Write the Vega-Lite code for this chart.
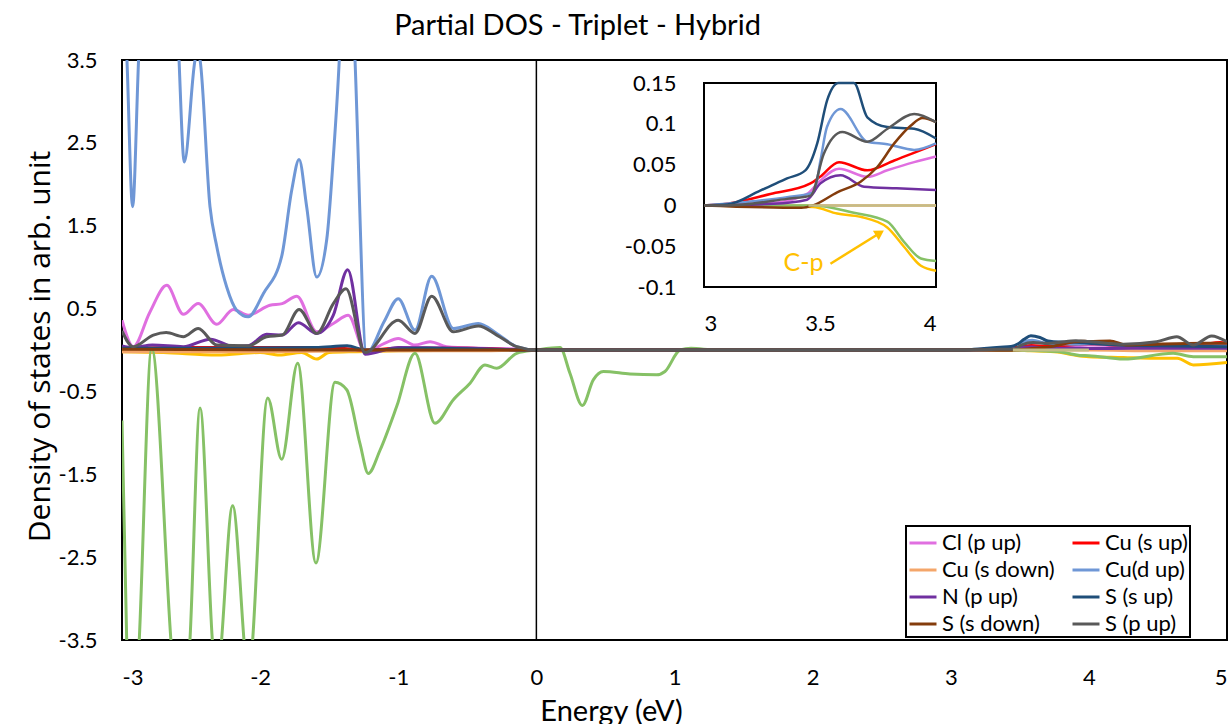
{
  "$schema": "https://vega.github.io/schema/vega-lite/v6.json",
  "width": 1105,
  "height": 580,
  "autosize": {"type": "none"},
  "padding": {"left": 122, "top": 60, "right": 5, "bottom": 84},
  "background": "white",
  "title": {"text": "Partial DOS - Triplet - Hybrid", "font": "Lato", "fontSize": 29, "fontWeight": "normal", "color": "black", "anchor": "middle", "dx": -97, "dy": 41, "offset": 26, "baseline": "alphabetic"},
  "config": {
    "view": {"stroke": "black", "strokeWidth": 2},
    "font": "Lato",
    "locale": {"number": {"decimal": ".", "thousands": ",", "grouping": [3], "currency": ["$", ""], "minus": "-"}},
    "axis": {"grid": false, "ticks": false, "tickSize": 0, "domain": false, "labelFont": "Lato", "labelColor": "black", "labelFontSize": 22, "titleColor": "black", "titleFontWeight": "normal"},
    "legend": {"strokeWidth": 2}
  },
  "datasets": {
    "dos": [
      {"s":"C (p)","e":-3.0,"v":-0.02},{"s":"C (p)","e":-2.7,"v":-0.03},{"s":"C (p)","e":-2.31,"v":-0.06},{"s":"C (p)","e":-2.0,"v":-0.03},{"s":"C (p)","e":-1.86,"v":-0.06},{"s":"C (p)","e":-1.7,"v":-0.03},{"s":"C (p)","e":-1.59,"v":-0.11},{"s":"C (p)","e":-1.5,"v":-0.03},{"s":"C (p)","e":-1.3,"v":-0.02},{"s":"C (p)","e":-1.0,"v":-0.01},{"s":"C (p)","e":0,"v":0},{"s":"C (p)","e":3.0,"v":0},{"s":"C (p)","e":3.47,"v":-0.002},{"s":"C (p)","e":3.574,"v":-0.01},{"s":"C (p)","e":3.675,"v":-0.014},{"s":"C (p)","e":3.79,"v":-0.027},{"s":"C (p)","e":3.863,"v":-0.051},{"s":"C (p)","e":3.935,"v":-0.074},{"s":"C (p)","e":4.0,"v":-0.08},{"s":"C (p)","e":4.25,"v":-0.09},{"s":"C (p)","e":4.467,"v":-0.1},{"s":"C (p)","e":4.64,"v":-0.1},{"s":"C (p)","e":4.756,"v":-0.18},{"s":"C (p)","e":5.0,"v":-0.15},

      {"s":"Cu (s down)","e":-3.0,"v":-0.02},{"s":"Cu (s down)","e":-2.0,"v":-0.02},{"s":"Cu (s down)","e":-1.24,"v":-0.01},{"s":"Cu (s down)","e":-0.5,"v":-0.01},{"s":"Cu (s down)","e":0,"v":0},{"s":"Cu (s down)","e":3.0,"v":0},{"s":"Cu (s down)","e":4.0,"v":0},{"s":"Cu (s down)","e":4.5,"v":-0.01},{"s":"Cu (s down)","e":5.0,"v":-0.01},

      {"s":"Cl (p up)","e":-3.0,"v":0.36},{"s":"Cl (p up)","e":-2.918,"v":0.04},{"s":"Cl (p up)","e":-2.8,"v":0.45},{"s":"Cl (p up)","e":-2.676,"v":0.78},{"s":"Cl (p up)","e":-2.556,"v":0.43},{"s":"Cl (p up)","e":-2.448,"v":0.56},{"s":"Cl (p up)","e":-2.314,"v":0.31},{"s":"Cl (p up)","e":-2.194,"v":0.49},{"s":"Cl (p up)","e":-2.086,"v":0.42},{"s":"Cl (p up)","e":-1.929,"v":0.54},{"s":"Cl (p up)","e":-1.84,"v":0.56},{"s":"Cl (p up)","e":-1.735,"v":0.65},{"s":"Cl (p up)","e":-1.59,"v":0.22},{"s":"Cl (p up)","e":-1.47,"v":0.32},{"s":"Cl (p up)","e":-1.362,"v":0.42},{"s":"Cl (p up)","e":-1.24,"v":-0.02},{"s":"Cl (p up)","e":-1.1,"v":0.08},{"s":"Cl (p up)","e":-1.0,"v":0.14},{"s":"Cl (p up)","e":-0.879,"v":0.06},{"s":"Cl (p up)","e":-0.77,"v":0.1},{"s":"Cl (p up)","e":-0.65,"v":0.04},{"s":"Cl (p up)","e":-0.4,"v":0.02},{"s":"Cl (p up)","e":-0.1,"v":0.01},{"s":"Cl (p up)","e":0,"v":0},{"s":"Cl (p up)","e":3.0,"v":0},{"s":"Cl (p up)","e":3.3,"v":0.003},{"s":"Cl (p up)","e":3.444,"v":0.014},{"s":"Cl (p up)","e":3.5,"v":0.03},{"s":"Cl (p up)","e":3.582,"v":0.045},{"s":"Cl (p up)","e":3.704,"v":0.035},{"s":"Cl (p up)","e":3.79,"v":0.043},{"s":"Cl (p up)","e":3.906,"v":0.053},{"s":"Cl (p up)","e":4.0,"v":0.06},{"s":"Cl (p up)","e":4.3,"v":0.05},{"s":"Cl (p up)","e":4.6,"v":0.05},{"s":"Cl (p up)","e":5.0,"v":0.06},

      {"s":"Cu (s up)","e":-3.0,"v":0.02},{"s":"Cu (s up)","e":-2.5,"v":0.03},{"s":"Cu (s up)","e":-2.0,"v":0.03},{"s":"Cu (s up)","e":-1.5,"v":0.03},{"s":"Cu (s up)","e":-1.24,"v":0.0},{"s":"Cu (s up)","e":-1.0,"v":0.02},{"s":"Cu (s up)","e":-0.5,"v":0.02},{"s":"Cu (s up)","e":0,"v":0},{"s":"Cu (s up)","e":3.0,"v":0},{"s":"Cu (s up)","e":3.1,"v":0.002},{"s":"Cu (s up)","e":3.286,"v":0.014},{"s":"Cu (s up)","e":3.459,"v":0.027},{"s":"Cu (s up)","e":3.5,"v":0.035},{"s":"Cu (s up)","e":3.582,"v":0.053},{"s":"Cu (s up)","e":3.704,"v":0.043},{"s":"Cu (s up)","e":3.82,"v":0.055},{"s":"Cu (s up)","e":4.0,"v":0.075},{"s":"Cu (s up)","e":4.2,"v":0.06},{"s":"Cu (s up)","e":4.5,"v":0.05},{"s":"Cu (s up)","e":4.8,"v":0.06},{"s":"Cu (s up)","e":4.95,"v":0.09},{"s":"Cu (s up)","e":5.0,"v":0.08},

      {"s":"Cu(d up)","e":-3.0,"v":5.0},{"s":"Cu(d up)","e":-2.964,"v":3.5},{"s":"Cu(d up)","e":-2.923,"v":1.73},{"s":"Cu(d up)","e":-2.88,"v":3.5},{"s":"Cu(d up)","e":-2.8,"v":6.0},{"s":"Cu(d up)","e":-2.7,"v":6.5},{"s":"Cu(d up)","e":-2.62,"v":5.0},{"s":"Cu(d up)","e":-2.587,"v":3.5},{"s":"Cu(d up)","e":-2.549,"v":2.27},{"s":"Cu(d up)","e":-2.471,"v":3.5},{"s":"Cu(d up)","e":-2.455,"v":3.6},{"s":"Cu(d up)","e":-2.435,"v":3.5},{"s":"Cu(d up)","e":-2.363,"v":1.73},{"s":"Cu(d up)","e":-2.314,"v":1.25},{"s":"Cu(d up)","e":-2.242,"v":0.76},{"s":"Cu(d up)","e":-2.17,"v":0.48},{"s":"Cu(d up)","e":-2.086,"v":0.4},{"s":"Cu(d up)","e":-1.977,"v":0.68},{"s":"Cu(d up)","e":-1.844,"v":1.13},{"s":"Cu(d up)","e":-1.771,"v":1.93},{"s":"Cu(d up)","e":-1.718,"v":2.3},{"s":"Cu(d up)","e":-1.663,"v":1.73},{"s":"Cu(d up)","e":-1.59,"v":0.88},{"s":"Cu(d up)","e":-1.518,"v":1.33},{"s":"Cu(d up)","e":-1.47,"v":2.33},{"s":"Cu(d up)","e":-1.427,"v":3.5},{"s":"Cu(d up)","e":-1.39,"v":5.0},{"s":"Cu(d up)","e":-1.35,"v":5.0},{"s":"Cu(d up)","e":-1.313,"v":3.5},{"s":"Cu(d up)","e":-1.23,"v":-0.04},{"s":"Cu(d up)","e":-1.1,"v":0.35},{"s":"Cu(d up)","e":-1.0,"v":0.62},{"s":"Cu(d up)","e":-0.879,"v":0.24},{"s":"Cu(d up)","e":-0.758,"v":0.89},{"s":"Cu(d up)","e":-0.601,"v":0.26},{"s":"Cu(d up)","e":-0.42,"v":0.32},{"s":"Cu(d up)","e":-0.287,"v":0.2},{"s":"Cu(d up)","e":-0.142,"v":0.04},{"s":"Cu(d up)","e":0,"v":0},{"s":"Cu(d up)","e":3.0,"v":0},{"s":"Cu(d up)","e":3.21,"v":0.005},{"s":"Cu(d up)","e":3.358,"v":0.01},{"s":"Cu(d up)","e":3.473,"v":0.016},{"s":"Cu(d up)","e":3.502,"v":0.055},{"s":"Cu(d up)","e":3.53,"v":0.096},{"s":"Cu(d up)","e":3.589,"v":0.118},{"s":"Cu(d up)","e":3.704,"v":0.078},{"s":"Cu(d up)","e":3.79,"v":0.075},{"s":"Cu(d up)","e":3.906,"v":0.068},{"s":"Cu(d up)","e":4.0,"v":0.076},{"s":"Cu(d up)","e":4.3,"v":0.06},{"s":"Cu(d up)","e":4.6,"v":0.05},{"s":"Cu(d up)","e":5.0,"v":0.05},

      {"s":"Cu (d down)","e":-3.0,"v":-0.85},{"s":"Cu (d down)","e":-2.966,"v":-3.5},{"s":"Cu (d down)","e":-2.92,"v":-5.0},{"s":"Cu (d down)","e":-2.875,"v":-3.5},{"s":"Cu (d down)","e":-2.785,"v":0.02},{"s":"Cu (d down)","e":-2.646,"v":-3.5},{"s":"Cu (d down)","e":-2.577,"v":-5.0},{"s":"Cu (d down)","e":-2.508,"v":-3.5},{"s":"Cu (d down)","e":-2.435,"v":-0.7},{"s":"Cu (d down)","e":-2.346,"v":-3.5},{"s":"Cu (d down)","e":-2.312,"v":-4.2},{"s":"Cu (d down)","e":-2.279,"v":-3.5},{"s":"Cu (d down)","e":-2.199,"v":-1.88},{"s":"Cu (d down)","e":-2.117,"v":-3.5},{"s":"Cu (d down)","e":-2.085,"v":-4.2},{"s":"Cu (d down)","e":-2.054,"v":-3.5},{"s":"Cu (d down)","e":-1.945,"v":-0.58},{"s":"Cu (d down)","e":-1.844,"v":-1.32},{"s":"Cu (d down)","e":-1.728,"v":-0.16},{"s":"Cu (d down)","e":-1.596,"v":-2.57},{"s":"Cu (d down)","e":-1.458,"v":-0.39},{"s":"Cu (d down)","e":-1.373,"v":-0.48},{"s":"Cu (d down)","e":-1.277,"v":-1.13},{"s":"Cu (d down)","e":-1.217,"v":-1.49},{"s":"Cu (d down)","e":-1.132,"v":-1.21},{"s":"Cu (d down)","e":-1.011,"v":-0.68},{"s":"Cu (d down)","e":-0.879,"v":-0.04},{"s":"Cu (d down)","e":-0.734,"v":-0.885},{"s":"Cu (d down)","e":-0.601,"v":-0.6},{"s":"Cu (d down)","e":-0.48,"v":-0.4},{"s":"Cu (d down)","e":-0.372,"v":-0.18},{"s":"Cu (d down)","e":-0.287,"v":-0.22},{"s":"Cu (d down)","e":-0.142,"v":-0.04},{"s":"Cu (d down)","e":0,"v":0},{"s":"Cu (d down)","e":0.171,"v":0.03},{"s":"Cu (d down)","e":0.243,"v":-0.28},{"s":"Cu (d down)","e":0.333,"v":-0.67},{"s":"Cu (d down)","e":0.412,"v":-0.36},{"s":"Cu (d down)","e":0.485,"v":-0.26},{"s":"Cu (d down)","e":0.678,"v":-0.29},{"s":"Cu (d down)","e":0.871,"v":-0.3},{"s":"Cu (d down)","e":0.931,"v":-0.26},{"s":"Cu (d down)","e":1.04,"v":0.0},{"s":"Cu (d down)","e":1.12,"v":0.02},{"s":"Cu (d down)","e":1.3,"v":0},{"s":"Cu (d down)","e":3.0,"v":0},{"s":"Cu (d down)","e":3.47,"v":0},{"s":"Cu (d down)","e":3.646,"v":-0.009},{"s":"Cu (d down)","e":3.79,"v":-0.02},{"s":"Cu (d down)","e":3.863,"v":-0.045},{"s":"Cu (d down)","e":3.935,"v":-0.065},{"s":"Cu (d down)","e":4.0,"v":-0.068},{"s":"Cu (d down)","e":4.25,"v":-0.11},{"s":"Cu (d down)","e":4.61,"v":-0.04},{"s":"Cu (d down)","e":4.756,"v":-0.08},{"s":"Cu (d down)","e":5.0,"v":-0.08},

      {"s":"N (p up)","e":-3.0,"v":0.05},{"s":"N (p up)","e":-2.92,"v":0.03},{"s":"N (p up)","e":-2.78,"v":0.06},{"s":"N (p up)","e":-2.556,"v":0.04},{"s":"N (p up)","e":-2.36,"v":0.13},{"s":"N (p up)","e":-2.19,"v":0.04},{"s":"N (p up)","e":-2.086,"v":0.05},{"s":"N (p up)","e":-1.953,"v":0.19},{"s":"N (p up)","e":-1.84,"v":0.18},{"s":"N (p up)","e":-1.723,"v":0.33},{"s":"N (p up)","e":-1.59,"v":0.2},{"s":"N (p up)","e":-1.47,"v":0.42},{"s":"N (p up)","e":-1.366,"v":0.97},{"s":"N (p up)","e":-1.24,"v":-0.05},{"s":"N (p up)","e":-1.0,"v":0.03},{"s":"N (p up)","e":-0.5,"v":0.02},{"s":"N (p up)","e":0,"v":0},{"s":"N (p up)","e":3.0,"v":0},{"s":"N (p up)","e":3.3,"v":0.002},{"s":"N (p up)","e":3.444,"v":0.007},{"s":"N (p up)","e":3.502,"v":0.027},{"s":"N (p up)","e":3.589,"v":0.037},{"s":"N (p up)","e":3.69,"v":0.023},{"s":"N (p up)","e":3.83,"v":0.021},{"s":"N (p up)","e":4.0,"v":0.019},{"s":"N (p up)","e":4.3,"v":0.02},{"s":"N (p up)","e":5.0,"v":0.02},

      {"s":"S (s up)","e":-3.0,"v":0.02},{"s":"S (s up)","e":-2.5,"v":0.02},{"s":"S (s up)","e":-1.6,"v":0.03},{"s":"S (s up)","e":-1.37,"v":0.05},{"s":"S (s up)","e":-1.24,"v":0.0},{"s":"S (s up)","e":-0.8,"v":0.02},{"s":"S (s up)","e":0,"v":0},{"s":"S (s up)","e":3.0,"v":0},{"s":"S (s up)","e":3.1,"v":0.001},{"s":"S (s up)","e":3.242,"v":0.018},{"s":"S (s up)","e":3.358,"v":0.033},{"s":"S (s up)","e":3.437,"v":0.043},{"s":"S (s up)","e":3.488,"v":0.076},{"s":"S (s up)","e":3.531,"v":0.129},{"s":"S (s up)","e":3.58,"v":0.172},{"s":"S (s up)","e":3.646,"v":0.151},{"s":"S (s up)","e":3.704,"v":0.108},{"s":"S (s up)","e":3.79,"v":0.096},{"s":"S (s up)","e":3.906,"v":0.094},{"s":"S (s up)","e":4.0,"v":0.082},{"s":"S (s up)","e":4.2,"v":0.06},{"s":"S (s up)","e":4.5,"v":0.05},{"s":"S (s up)","e":5.0,"v":0.04},

      {"s":"S (s down)","e":-3.0,"v":0.01},{"s":"S (s down)","e":-1.24,"v":0},{"s":"S (s down)","e":0,"v":0},{"s":"S (s down)","e":3.0,"v":0},{"s":"S (s down)","e":3.42,"v":-0.003},{"s":"S (s down)","e":3.47,"v":0},{"s":"S (s down)","e":3.574,"v":0.016},{"s":"S (s down)","e":3.675,"v":0.029},{"s":"S (s down)","e":3.747,"v":0.047},{"s":"S (s down)","e":3.82,"v":0.076},{"s":"S (s down)","e":3.892,"v":0.098},{"s":"S (s down)","e":3.942,"v":0.107},{"s":"S (s down)","e":4.0,"v":0.102},{"s":"S (s down)","e":4.153,"v":0.11},{"s":"S (s down)","e":4.27,"v":0.06},{"s":"S (s down)","e":4.49,"v":0.07},{"s":"S (s down)","e":4.85,"v":0.08},{"s":"S (s down)","e":5.0,"v":0.08},

      {"s":"S (p up)","e":-3.0,"v":0.23},{"s":"S (p up)","e":-2.92,"v":0.04},{"s":"S (p up)","e":-2.773,"v":0.18},{"s":"S (p up)","e":-2.68,"v":0.21},{"s":"S (p up)","e":-2.556,"v":0.16},{"s":"S (p up)","e":-2.448,"v":0.26},{"s":"S (p up)","e":-2.314,"v":0.06},{"s":"S (p up)","e":-2.086,"v":0.05},{"s":"S (p up)","e":-1.953,"v":0.16},{"s":"S (p up)","e":-1.84,"v":0.18},{"s":"S (p up)","e":-1.718,"v":0.49},{"s":"S (p up)","e":-1.59,"v":0.2},{"s":"S (p up)","e":-1.47,"v":0.56},{"s":"S (p up)","e":-1.378,"v":0.74},{"s":"S (p up)","e":-1.24,"v":-0.03},{"s":"S (p up)","e":-1.0,"v":0.36},{"s":"S (p up)","e":-0.879,"v":0.2},{"s":"S (p up)","e":-0.758,"v":0.65},{"s":"S (p up)","e":-0.601,"v":0.22},{"s":"S (p up)","e":-0.42,"v":0.29},{"s":"S (p up)","e":-0.287,"v":0.18},{"s":"S (p up)","e":-0.142,"v":0.04},{"s":"S (p up)","e":0,"v":0},{"s":"S (p up)","e":3.0,"v":0},{"s":"S (p up)","e":3.1,"v":0},{"s":"S (p up)","e":3.358,"v":0.008},{"s":"S (p up)","e":3.46,"v":0.012},{"s":"S (p up)","e":3.516,"v":0.063},{"s":"S (p up)","e":3.596,"v":0.09},{"s":"S (p up)","e":3.704,"v":0.078},{"s":"S (p up)","e":3.791,"v":0.094},{"s":"S (p up)","e":3.906,"v":0.112},{"s":"S (p up)","e":4.0,"v":0.102},{"s":"S (p up)","e":4.249,"v":0.07},{"s":"S (p up)","e":4.49,"v":0.1},{"s":"S (p up)","e":4.636,"v":0.16},{"s":"S (p up)","e":4.756,"v":0.06},{"s":"S (p up)","e":4.889,"v":0.17},{"s":"S (p up)","e":5.0,"v":0.1},

      {"s":"N (p down)","e":3.45,"v":0},{"s":"N (p down)","e":4.0,"v":0}
    ]
  },
  "layer": [
    {
      "layer": [
        {
          "data": {"name": "dos"},
          "mark": {"type": "line", "clip": true, "interpolate": "monotone", "strokeWidth": 3},
          "encoding": {
            "x": {"field": "e", "type": "quantitative", "scale": {"domain": [-3, 5], "nice": false, "zero": false},
                  "axis": {"orient": "bottom", "values": [-3, -2, -1, 0, 1, 2, 3, 4, 5], "labelExpr": "'' + datum.value", "labelPadding": 27, "labelFontSize": 22,
                           "title": "Energy (eV)", "titleFont": "Lato", "titleFontSize": 29, "titleX": 489, "titleY": 80, "titleBaseline": "alphabetic", "titleAlign": "center"}},
            "y": {"field": "v", "type": "quantitative", "scale": {"domain": [-3.5, 3.5], "nice": false, "zero": false},
                  "axis": {"orient": "left", "values": [-3.5, -2.5, -1.5, -0.5, 0.5, 1.5, 2.5, 3.5], "labelExpr": "'' + datum.value", "labelPadding": 25, "labelFontSize": 22,
                           "title": "Density of states in arb. unit", "titleFont": "Open Sans", "titleFontSize": 30, "titleAngle": -90, "titleX": -82, "titleY": 286, "titleBaseline": "middle", "titleAlign": "center"}},
            "color": {"field": "s", "type": "nominal",
                      "scale": {"domain": ["Cl (p up)", "Cu (s up)", "Cu (s down)", "Cu(d up)", "N (p up)", "S (s up)", "S (s down)", "S (p up)", "Cu (d down)", "C (p)", "N (p down)"],
                                "range": ["#E06FE0", "#FF0000", "#F4A66A", "#6F97D6", "#7030A0", "#1F4E79", "#843C0C", "#595959", "#86C166", "#FFC000", "#C4BD86"]},
                      "legend": {"values": ["Cl (p up)", "Cu (s up)", "Cu (s down)", "Cu(d up)", "N (p up)", "S (s up)", "S (s down)", "S (p up)"],
                                 "orient": "none", "legendX": 784, "legendY": 466, "direction": "horizontal", "columns": 2, "title": null, "symbolType": "stroke", "symbolSize": 729, "symbolStrokeWidth": 3,
                                 "labelFont": "Lato", "labelFontSize": 22, "labelColor": "black", "labelOffset": 4, "columnPadding": 11, "rowPadding": 1, "padding": 2,
                                 "strokeColor": "black", "fillColor": "white"}}
          }
        },
        {
          "data": {"values": [{"e": 0}]},
          "mark": {"type": "rule", "color": "black", "strokeWidth": 1.5},
          "encoding": {"x": {"field": "e", "type": "quantitative"}}
        }
      ]
    },
    {
      "layer": [
        {
          "data": {"values": [{"e0": 3, "e1": 4, "v0": -0.1, "v1": 0.15}]},
          "mark": {"type": "rect", "fill": "white", "stroke": "black", "strokeWidth": 2},
          "encoding": {
            "x": {"field": "e0", "type": "quantitative", "scale": {"domain": [3, 4], "range": [582, 814], "nice": false, "zero": false},
                  "axis": {"orient": "bottom", "offset": -353, "values": [3, 3.5, 4], "labelExpr": "'' + datum.value", "labelPadding": 26, "labelFontSize": 22, "title": null}},
            "x2": {"field": "e1"},
            "y": {"field": "v0", "type": "quantitative", "scale": {"domain": [-0.1, 0.15], "range": [227, 23], "nice": false, "zero": false, "clamp": true},
                  "axis": {"orient": "left", "offset": -582, "values": [-0.1, -0.05, 0, 0.05, 0.1, 0.15], "labelExpr": "'' + datum.value", "labelPadding": 28, "labelFontSize": 22, "title": null}},
            "y2": {"field": "v1"}
          }
        },
        {
          "data": {"name": "dos"},
          "transform": [{"filter": "datum.e >= 3 && datum.e <= 4"}],
          "mark": {"type": "line", "interpolate": "monotone", "strokeWidth": 2.5},
          "encoding": {
            "x": {"field": "e", "type": "quantitative"},
            "y": {"field": "v", "type": "quantitative"},
            "color": {"field": "s", "type": "nominal"}
          }
        },
        {
          "data": {"values": [{"e0": 3.545, "v0": -0.0715, "e1": 3.758, "v1": -0.0338}]},
          "mark": {"type": "rule", "color": "#FFC000", "strokeWidth": 2.5},
          "encoding": {
            "x": {"field": "e0", "type": "quantitative"},
            "y": {"field": "v0", "type": "quantitative"},
            "x2": {"field": "e1"},
            "y2": {"field": "v1"}
          }
        },
        {
          "data": {"values": [{"e1": 3.758, "v1": -0.0338}]},
          "mark": {"type": "point", "shape": "triangle-up", "filled": true, "color": "#FFC000", "size": 120, "angle": 58, "opacity": 1},
          "encoding": {
            "x": {"field": "e1", "type": "quantitative"},
            "y": {"field": "v1", "type": "quantitative"}
          }
        },
        {
          "data": {"values": [{"label": "C-p", "e": 3.4286, "v": -0.0711}]},
          "mark": {"type": "text", "font": "Lato", "fontSize": 25, "color": "#FFC000", "align": "center", "baseline": "middle"},
          "encoding": {
            "x": {"field": "e", "type": "quantitative"},
            "y": {"field": "v", "type": "quantitative"},
            "text": {"field": "label"}
          }
        }
      ]
    }
  ],
  "resolve": {"scale": {"x": "independent", "y": "independent"}}
}
